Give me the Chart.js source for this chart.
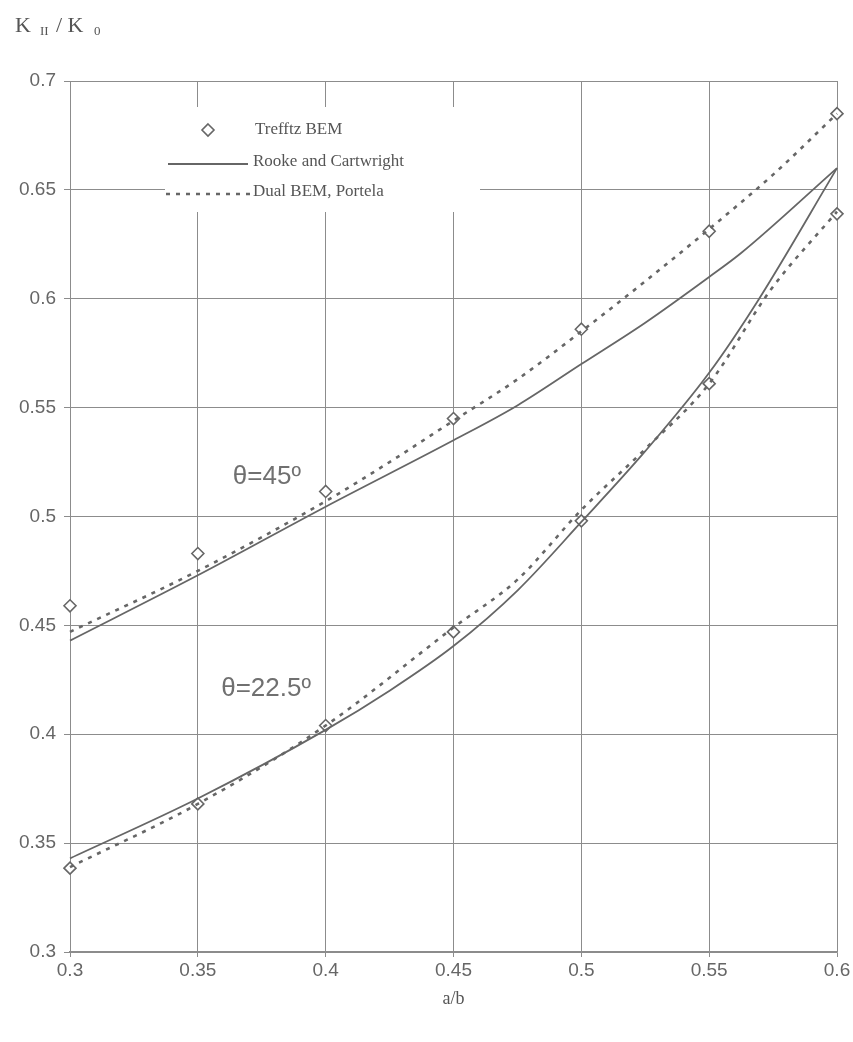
<!DOCTYPE html>
<html>
<head>
<meta charset="utf-8">
<title>K_II / K_0 versus a/b</title>
<script src="https://cdn.jsdelivr.net/npm/chart.js@4/dist/chart.umd.min.js"></script>
<style>
  html, body { margin: 0; padding: 0; background: #fff; }
  #wrap { width: 853px; height: 1042px; }
</style>
</head>
<body>
<div id="wrap"><canvas id="kChart" width="853" height="1042"></canvas></div>
<script>
// tick values on both axes
const xTickValues = [0.3, 0.35, 0.4, 0.45, 0.5, 0.55, 0.6];
const yTickValues = [0.3, 0.35, 0.4, 0.45, 0.5, 0.55, 0.6, 0.65, 0.7];

// Trefftz BEM results
const abTrefftz = [0.3, 0.35, 0.4, 0.45, 0.5, 0.55, 0.6];
const trefftz45 = [0.459, 0.483, 0.5115, 0.545, 0.586, 0.631, 0.685];
const trefftz225 = [0.3385, 0.368, 0.404, 0.447, 0.498, 0.561, 0.639];

// Rooke and Cartwright curves
const abRooke45 = [0.3, 0.35, 0.4, 0.45, 0.475, 0.5, 0.525, 0.55, 0.5625, 0.6];
const rooke45 = [0.443, 0.473, 0.5045, 0.535, 0.551, 0.570, 0.589, 0.610, 0.621, 0.660];
const abRooke225 = [0.3, 0.35, 0.4, 0.425, 0.45, 0.475, 0.5, 0.525, 0.55, 0.569, 0.6];
const rooke225 = [0.343, 0.3705, 0.402, 0.420, 0.4405, 0.466, 0.4975, 0.530, 0.566, 0.599, 0.660];

// Dual BEM (Portela) curves
const abDual45 = [0.3, 0.35, 0.4, 0.425, 0.45, 0.475, 0.5, 0.525, 0.55, 0.575, 0.6];
const dual45 = [0.447, 0.475, 0.507, 0.525, 0.544, 0.563, 0.585, 0.608, 0.632, 0.657, 0.685];
const abDual225 = [0.3, 0.35, 0.4, 0.45, 0.475, 0.5, 0.525, 0.55, 0.574, 0.6];
const dual225 = [0.339, 0.368, 0.404, 0.449, 0.471, 0.503, 0.531, 0.561, 0.604, 0.640];

const legendLabels = ['Trefftz BEM', 'Rooke and Cartwright', 'Dual BEM, Portela'];
const curveLabels = [
  { text: 'θ=45º', x: 0.377, y: 0.518 },
  { text: 'θ=22.5º', x: 0.3767, y: 0.421 }
];

const ink = '#666';
const gridInk = '#8c8c8c';

function pts(xs, ys) {
  return xs.map((x, i) => ({ x: x, y: ys[i] }));
}

function lineSet(label, xs, ys, dashed) {
  return {
    label: label,
    data: pts(xs, ys),
    showLine: true,
    clip: false,
    borderColor: ink,
    borderWidth: dashed ? 2.6 : 1.8,
    borderDash: dashed ? [4, 6] : [],
    pointRadius: 0,
    fill: false,
    cubicInterpolationMode: 'monotone'
  };
}

function markerSet(label, xs, ys) {
  return {
    label: label,
    data: pts(xs, ys),
    showLine: false,
    clip: false,
    pointStyle: 'rectRot',
    pointRadius: 6,
    pointBorderWidth: 1.6,
    pointBorderColor: ink,
    pointBackgroundColor: '#fff'
  };
}

// white panel with the legend, plus curve labels and the y title
const decorations = {
  id: 'decorations',
  beforeDatasetsDraw(chart) {
    const ctx = chart.ctx;
    ctx.save();
    ctx.fillStyle = '#fff';
    ctx.fillRect(165, 107, 315, 105);
    ctx.restore();
  },
  afterDatasetsDraw(chart) {
    const ctx = chart.ctx;
    const xs = chart.scales.x, ys = chart.scales.y;
    ctx.save();

    // legend
    ctx.font = '17px "Liberation Serif", "DejaVu Serif", serif';
    ctx.textBaseline = 'middle';
    ctx.textAlign = 'left';

    ctx.strokeStyle = ink;
    ctx.fillStyle = '#fff';
    ctx.lineWidth = 1.6;
    ctx.beginPath();
    ctx.moveTo(208, 124); ctx.lineTo(214, 130); ctx.lineTo(208, 136); ctx.lineTo(202, 130);
    ctx.closePath();
    ctx.fill(); ctx.stroke();

    ctx.lineWidth = 1.8;
    ctx.beginPath();
    ctx.moveTo(168, 164); ctx.lineTo(248, 164);
    ctx.stroke();

    ctx.lineWidth = 2.6;
    ctx.setLineDash([4, 6]);
    ctx.beginPath();
    ctx.moveTo(166, 194); ctx.lineTo(250, 194);
    ctx.stroke();
    ctx.setLineDash([]);

    ctx.fillStyle = '#555';
    ctx.fillText(legendLabels[0], 255, 130);
    ctx.fillText(legendLabels[1], 253, 162);
    ctx.fillText(legendLabels[2], 253, 192);

    // curve labels
    ctx.font = '26px "Liberation Sans", Arial, sans-serif';
    ctx.fillStyle = '#707070';
    ctx.textAlign = 'center';
    curveLabels.forEach(l => {
      ctx.fillText(l.text, xs.getPixelForValue(l.x), ys.getPixelForValue(l.y));
    });

    // y title: K_II / K_0
    ctx.textAlign = 'left';
    ctx.textBaseline = 'alphabetic';
    ctx.fillStyle = '#555';
    const big = '22px "Liberation Serif", "DejaVu Serif", serif';
    const small = '13px "Liberation Serif", "DejaVu Serif", serif';
    ctx.font = big;  ctx.fillText('K', 15, 32);
    ctx.font = small; ctx.fillText('II', 40, 35);
    ctx.font = big;  ctx.fillText('/ K', 56, 32);
    ctx.font = small; ctx.fillText('0', 94, 35);

    ctx.restore();
  }
};

document.addEventListener('DOMContentLoaded', function() {
  const ctx = document.getElementById('kChart').getContext('2d');

  new Chart(ctx, {
    type: 'scatter',
    data: {
      datasets: [
        lineSet('Rooke and Cartwright 45', abRooke45, rooke45, false),
        lineSet('Rooke and Cartwright 22.5', abRooke225, rooke225, false),
        lineSet('Dual BEM, Portela 45', abDual45, dual45, true),
        lineSet('Dual BEM, Portela 22.5', abDual225, dual225, true),
        markerSet('Trefftz BEM 45', abTrefftz, trefftz45),
        markerSet('Trefftz BEM 22.5', abTrefftz, trefftz225)
      ]
    },
    options: {
      responsive: false,
      animation: false,
      layout: { padding: { top: 81, right: 16, left: 0, bottom: 0 } },
      plugins: {
        legend: { display: false },
        tooltip: { enabled: false }
      },
      scales: {
        x: {
          type: 'linear',
          min: 0.3,
          max: 0.6,
          afterBuildTicks: s => { s.ticks = xTickValues.map(v => ({ value: v })); },
          afterFit: s => { s.height = 90; },
          grid: { color: gridInk, lineWidth: 1, tickLength: 5, tickColor: gridInk },
          border: { color: gridInk, width: 1.4 },
          ticks: {
            color: '#666',
            padding: 2,
            font: { family: '"Liberation Sans", Arial, sans-serif', size: 19 },
            callback: v => String(+v.toFixed(2))
          },
          title: {
            display: true,
            text: 'a/b',
            color: '#555',
            font: { family: '"Liberation Serif", "DejaVu Serif", serif', size: 18 },
            padding: { top: 0, bottom: 32 }
          }
        },
        y: {
          type: 'linear',
          min: 0.3,
          max: 0.7,
          afterBuildTicks: s => { s.ticks = yTickValues.map(v => ({ value: v })); },
          afterFit: s => { s.width = 70; },
          grid: { color: gridInk, lineWidth: 1, tickLength: 6, tickColor: gridInk },
          border: { color: gridInk, width: 1 },
          ticks: {
            color: '#666',
            padding: 8,
            font: { family: '"Liberation Sans", Arial, sans-serif', size: 19 },
            callback: v => String(+v.toFixed(2))
          }
        }
      }
    },
    plugins: [decorations]
  });
});
</script>
</body>
</html>
